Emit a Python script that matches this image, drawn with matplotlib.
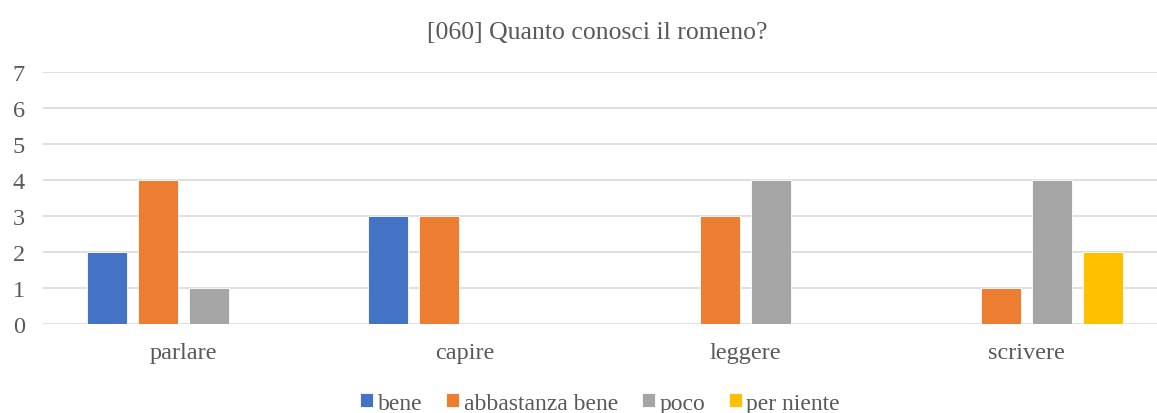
import numpy as np
import matplotlib.pyplot as plt

categories = ["parlare", "capire", "leggere", "scrivere"]
series_names = ["bene", "abbastanza bene", "poco", "per niente"]
bene = [2, 3, 0, 0]
abbastanza_bene = [4, 3, 3, 1]
poco = [1, 0, 4, 4]
per_niente = [0, 0, 0, 2]

colors = ["#4472C4", "#ED7D31", "#A5A5A5", "#FFC000"]
text_color = "#595959"

plt.rcParams['font.family'] = ['Liberation Serif', 'DejaVu Serif']

fig = plt.figure(figsize=(11.57, 4.14), dpi=100)
# the original chart is slightly cropped on the right
ax = fig.add_axes([0.0372, 0.215, 0.9715, 0.6087])

x = np.arange(len(categories))
width = 0.1423
step = 0.1815
for i, (vals, name) in enumerate(zip([bene, abbastanza_bene, poco, per_niente], series_names)):
    ax.bar(x + (i - 1.5) * step, vals, width, color=colors[i], label=name,
           edgecolor="white", linewidth=0.6, zorder=3)

ax.set_xlim(-0.5, 3.5)
ax.set_ylim(0, 7)
ax.set_yticks(range(0, 8))
ax.set_xticks(x)
ax.set_xticklabels(categories)
ax.grid(axis="y", color="#D9D9D9", linewidth=1.2, zorder=0)
for s in ax.spines.values():
    s.set_visible(False)
ax.tick_params(length=0, labelsize=17.5, colors=text_color)
ax.tick_params(axis="x", pad=13)
ax.tick_params(axis="y", pad=13)

fig.suptitle("[060] Quanto conosci il romeno?", x=0.516, y=0.948, fontsize=18.5, color=text_color)

fig.legend(loc="center", bbox_to_anchor=(0.5186, 0.024), ncol=4, frameon=False,
           fontsize=17, labelcolor=text_color, handlelength=0.55, handleheight=0.55,
           handletextpad=0.2, columnspacing=1.0)

fig.savefig("out.png", dpi=100)
